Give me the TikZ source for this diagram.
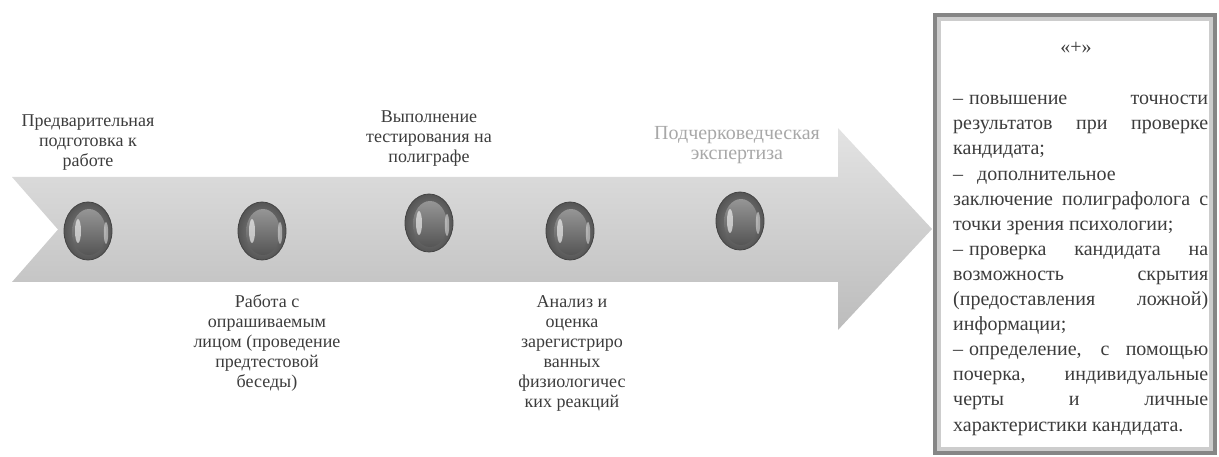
\documentclass[tikz,border=0pt]{standalone}
\usepackage{fontspec}
\setmainfont{Liberation Serif}
\definecolor{arrowtop}{HTML}{E3E3E3}
\definecolor{arrowmid}{HTML}{D3D3D3}
\definecolor{arrowbot}{HTML}{BCBCBC}
\definecolor{beadout}{HTML}{555555}
\definecolor{beadin}{HTML}{8A8A8A}
\definecolor{txt}{HTML}{3C3C3C}
\definecolor{faint}{HTML}{A8A8A8}
\definecolor{frameout}{HTML}{868686}
\definecolor{framein}{HTML}{CDCDCD}
\tikzset{
  lbl/.style={anchor=north, inner sep=0pt, align=center, text=txt, font=\fontsize{18}{20}\selectfont},
  lblfaint/.style={lbl, text=faint, font=\fontsize{20}{20}\selectfont},
  bead/.pic={
    \shade[inner color=beadin, outer color=beadout] (0,0) ellipse [x radius=24, y radius=29];
    \shade[top color=beadin!90!white, bottom color=beadout] (1,1) ellipse [x radius=17, y radius=23];
    \fill[white, opacity=.6] (-10,0) ellipse [x radius=3, y radius=12];
    \fill[white, opacity=.45] (18,2) ellipse [x radius=2.2, y radius=11];
    \draw[beadout!80!black, line width=.8pt] (0,0) ellipse [x radius=24, y radius=29];
  }
}
\newcommand{\dsh}{–\hspace{0.3em}}
\begin{document}
\begin{tikzpicture}[x=1pt, y=-1pt]
\useasboundingbox (0,0) rectangle (1219,457);
% big arrow
\shade[top color=arrowtop, middle color=arrowmid, bottom color=arrowbot]
  (12,177) -- (838,177) -- (838,128) -- (932,229) -- (838,330) -- (838,282)
  -- (12,282) -- (58,229.5) -- cycle;
% beads
\pic at (88,231) {bead};
\pic at (262,231) {bead};
\pic at (429,223) {bead};
\pic at (570,231) {bead};
\pic at (740,221) {bead};
% labels
\node[lbl] (l1) at (88,112) {\strut Предварительная\\подготовка к\\работе};
\node[lbl] (l3) at (429,108) {\strut Выполнение\\тестирования на\\полиграфе};
\node[lblfaint] (l5) at (737,125.5) {\strut Подчерковедческая\\экспертиза};
\node[lbl] (l2) at (267,293) {\strut Работа с\\опрашиваемым\\лицом (проведение\\предтестовой\\беседы)};
\node[lbl] (l4) at (572,293) {\strut Анализ и\\оценка\\зарегистриро\\ванных\\физиологичес\\ких реакций};
% frame
\draw[frameout, line width=4pt] (935,15) rectangle (1215,453);
\draw[framein, line width=3.5pt] (938.8,18.8) rectangle (1211.2,449.2);
\node[text=txt, font=\fontsize{20}{22}\selectfont, inner sep=0pt] (plus) at (1076,48) {«+»};
\node[anchor=north west, inner sep=0pt, text=txt] (list) at (953,87) {%
\begin{minipage}{255pt}\fontsize{20}{25.1}\selectfont\setlength{\parindent}{0pt}%
\strut\makebox[\linewidth][s]{\dsh повышение точности}\\
\makebox[\linewidth][s]{результатов при проверке}\\
кандидата;\\
–\hspace{0.7em}дополнительное\\
\makebox[\linewidth][s]{заключение полиграфолога с}\\
точки зрения психологии;\\
\makebox[\linewidth][s]{\dsh проверка кандидата на}\\
\makebox[\linewidth][s]{возможность скрытия}\\
\makebox[\linewidth][s]{(предоставления ложной)}\\
информации;\\
\makebox[\linewidth][s]{\dsh определение, с помощью}\\
\makebox[\linewidth][s]{почерка, индивидуальные}\\
\makebox[\linewidth][s]{черты и личные}\\
характеристики кандидата.
\end{minipage}};
\end{tikzpicture}
\end{document}
